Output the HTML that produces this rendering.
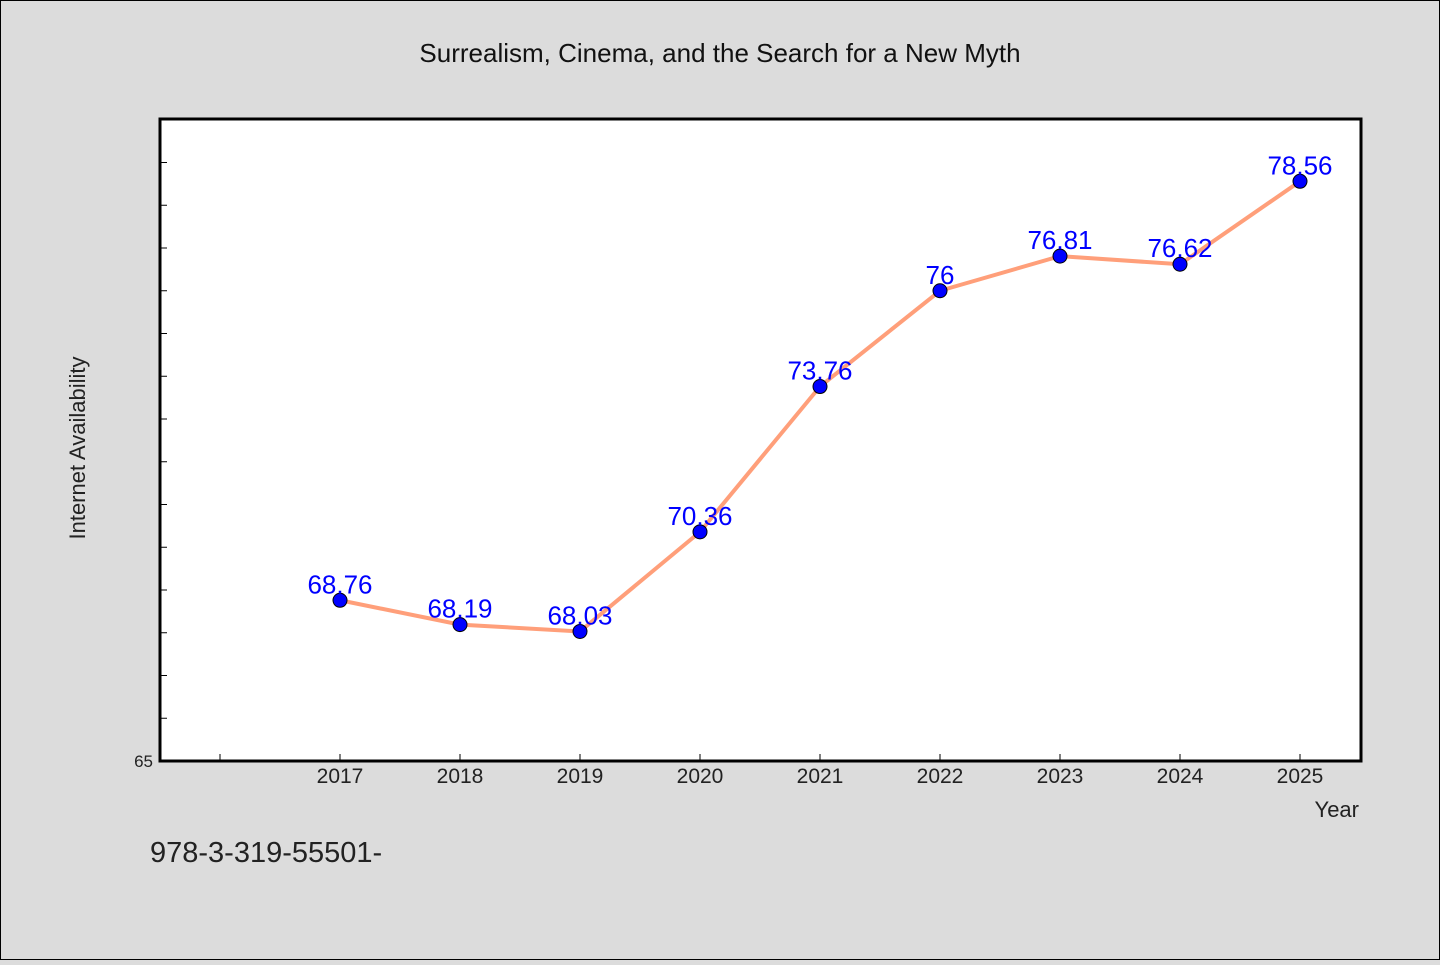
<!DOCTYPE html>
<html><head><meta charset="utf-8"><style>
body{margin:0;background:#dcdcdc;}
svg text{font-family:"WenQuanYi Zen Hei","Liberation Sans",sans-serif;}
</style></head><body>
<svg width="1440" height="960" xmlns="http://www.w3.org/2000/svg">
<rect x="0.5" y="0.5" width="1439" height="959" fill="#dcdcdc" stroke="#000"/>
<text x="720" y="62" text-anchor="middle" font-size="26" fill="#111">Surrealism, Cinema, and the Search for a New Myth</text>
<rect x="160" y="119" width="1201" height="642" fill="#fff" stroke="#000" stroke-width="3"/>
<g id="ticks"></g>
<text transform="translate(85,448) rotate(-90)" text-anchor="middle" font-size="22" fill="#222">Internet Availability</text>
<text x="1359" y="817" text-anchor="end" font-size="22" fill="#222">Year</text>
<text x="150" y="862" font-size="29" fill="#222">978-3-319-55501-</text>
<g id="series"></g>
</svg>
<script>
const years=[2017,2018,2019,2020,2021,2022,2023,2024,2025];
const values=[68.76,68.19,68.03,70.36,73.76,76,76.81,76.62,78.56];
const labels=["68.76","68.19","68.03","70.36","73.76","76","76.81","76.62","78.56"];
const yTicks=[65,66,67,68,69,70,71,72,73,74,75,76,77,78,79];
const xTicks=[2016,2017,2018,2019,2020,2021,2022,2023,2024,2025];
const NS="http://www.w3.org/2000/svg";
const xs=v=>340+(v-2017)*120;
const ys=v=>761-(v-65)*42.75;
function mk(t,a,p){const e=document.createElementNS(NS,t);for(const k in a)e.setAttribute(k,a[k]);p.appendChild(e);return e;}
const tg=document.getElementById('ticks');
yTicks.forEach(v=>{const l=mk('line',{x1:160,x2:167,y1:ys(v),y2:ys(v),stroke:'#000'},tg);

});
const yl=mk('text',{x:153,y:767,'text-anchor':'end','font-size':17,fill:'#222'},tg);yl.textContent='65';


xTicks.forEach(v=>{const l=mk('line',{x1:xs(v),x2:xs(v),y1:754,y2:761,stroke:'#000'},tg);


if(v>=2017){const t=mk('text',{x:xs(v),y:783,'text-anchor':'middle','font-size':21,fill:'#222'},tg);t.textContent=v;

}});
const sg=document.getElementById('series');
const pl=mk('polyline',{points:years.map((y,i)=>xs(y)+','+ys(values[i])).join(' '),fill:'none',stroke:'#ff9f7a','stroke-width':4},sg);


years.forEach((y,i)=>{const c=mk('circle',{cx:xs(y),cy:ys(values[i]),r:7,fill:'#0000ff',stroke:'#000','stroke-width':1},sg);


const t=mk('text',{x:xs(y),y:ys(values[i])-7,'text-anchor':'middle','font-size':26,fill:'#0000ff'},sg);t.textContent=labels[i];

});
</script>
</body></html>
